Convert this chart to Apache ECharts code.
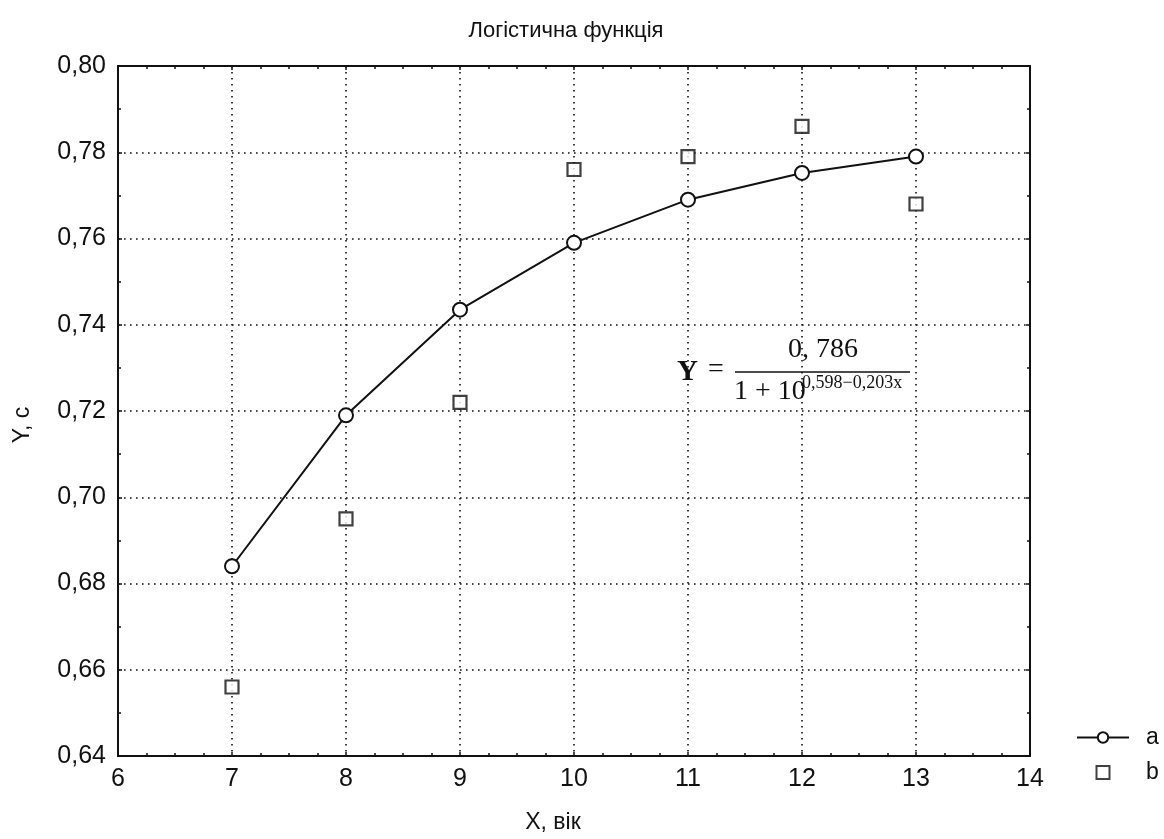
<!DOCTYPE html>
<html>
<head>
<meta charset="utf-8">
<script src="https://cdn.jsdelivr.net/npm/echarts@6/dist/echarts.min.js"></script>
<style>html,body{margin:0;padding:0;background:#fff;}#c{width:1164px;height:839px;}</style>
</head>
<body>
<div id="c"></div>
<script>
var titleText = 'Логістична функція';
var xName = 'X, вік';
var yName = 'Y, с';
var xValues = [7, 8, 9, 10, 11, 12, 13];
var seriesA = [0.684, 0.719, 0.7435, 0.759, 0.769, 0.7752, 0.779];
var seriesB = [0.656, 0.695, 0.722, 0.776, 0.779, 0.786, 0.768];
var seriesNames = ['a', 'b'];

function pairs(xs, ys) { return xs.map(function (x, i) { return [x, ys[i]]; }); }

var chart = echarts.init(document.getElementById('c'), null, {renderer: 'canvas'});
var F = '"Liberation Sans", Arial, sans-serif';
var SERIF = '"Liberation Serif", "Times New Roman", serif';
var ink = '#111';
var gridLine = {show: true, lineStyle: {color: ink, width: 1.6, type: [1.6, 4.4]}};

function axisBase(extra) {
  var o = {
    axisLine: {show: true, onZero: false, lineStyle: {color: ink, width: 2}},
    axisTick: {show: true, inside: true, length: 4, lineStyle: {color: ink, width: 1.5}},
    minorTick: {show: true, length: 3, lineStyle: {color: ink, width: 1.5}},
    splitLine: {show: false}
  };
  for (var k in extra) o[k] = extra[k];
  return o;
}

chart.setOption({
  animation: false,
  backgroundColor: '#fff',
  title: {
    text: titleText, left: 561, top: 15, textAlign: 'center',
    textStyle: {fontFamily: F, fontSize: 22, fontWeight: 'normal', color: ink}
  },
  grid: {left: 118, right: 134, top: 66, bottom: 79, show: false},
  xAxis: [
    axisBase({
      type: 'value', min: 6, max: 14, interval: 1, position: 'bottom',
      name: xName, nameLocation: 'middle', nameGap: 55,
      nameTextStyle: {fontFamily: F, fontSize: 23, color: ink, padding: [0, 42, 0, 0]},
      minorTick: {show: true, splitNumber: 4, length: 3, lineStyle: {color: ink, width: 1.5}},
      axisLabel: {fontFamily: F, fontSize: 25, color: ink, margin: 11},
      splitLine: gridLine
    }),
    axisBase({
      type: 'value', min: 6, max: 14, interval: 1, position: 'top',
      minorTick: {show: true, splitNumber: 4, length: 3, lineStyle: {color: ink, width: 1.5}},
      axisLabel: {show: false}
    })
  ],
  yAxis: [
    axisBase({
      type: 'value', min: 0.64, max: 0.80, interval: 0.02, position: 'left',
      name: yName, nameLocation: 'middle', nameGap: 84, nameRotate: 90,
      nameTextStyle: {fontFamily: F, fontSize: 23, color: ink, padding: [0, 28, 0, 0]},
      minorTick: {show: true, splitNumber: 2, length: 3, lineStyle: {color: ink, width: 1.5}},
      axisLabel: {fontFamily: F, fontSize: 25, color: ink, margin: 12,
        formatter: function (v) { return v.toFixed(2).replace('.', ','); }},
      splitLine: gridLine
    }),
    axisBase({
      type: 'value', min: 0.64, max: 0.80, interval: 0.02, position: 'right',
      minorTick: {show: true, splitNumber: 2, length: 3, lineStyle: {color: ink, width: 1.5}},
      axisLabel: {show: false}
    })
  ],
  legend: {
    orient: 'vertical', left: 1076, top: 726, itemWidth: 52, itemHeight: 13, itemGap: 12,
    padding: 0, symbolKeepAspect: true,
    textStyle: {fontFamily: F, fontSize: 23, color: ink, padding: [0, 0, 0, 12]},
    data: [
      {name: seriesNames[0]},
      {name: seriesNames[1], icon: 'path://M0,0L10,0L10,10L0,10Z',
        itemStyle: {color: '#fff', borderColor: ink, borderWidth: 2}}
    ]
  },
  series: [
    {
      name: seriesNames[0], type: 'line', xAxisIndex: 0, yAxisIndex: 0,
      data: pairs(xValues, seriesA),
      symbol: 'circle', symbolSize: 14, smooth: false,
      lineStyle: {color: ink, width: 2},
      itemStyle: {color: '#fff', borderColor: ink, borderWidth: 2},
      z: 5
    },
    {
      name: seriesNames[1], type: 'scatter', xAxisIndex: 0, yAxisIndex: 0,
      data: pairs(xValues, seriesB),
      symbol: 'rect', symbolSize: 13,
      itemStyle: {color: '#fff', borderColor: ink, borderWidth: 2.2},
      z: 5
    }
  ],
  graphic: [
    {type: 'text', left: 677, top: 358, z: 10,
      style: {text: 'Y', font: 'bold 29px ' + SERIF, fill: ink}},
    {type: 'text', left: 708, top: 356, z: 10,
      style: {text: '=', font: '28px ' + SERIF, fill: ink}},
    {type: 'text', left: 788, top: 336, z: 10,
      style: {text: '0, 786', font: '28px ' + SERIF, fill: ink}},
    {type: 'line', z: 10, shape: {x1: 735, y1: 372, x2: 910, y2: 372},
      style: {stroke: ink, lineWidth: 1.5}},
    {type: 'text', left: 734, top: 378, z: 10,
      style: {text: '1 + 10', font: '28px ' + SERIF, fill: ink}},
    {type: 'text', left: 802, top: 374, z: 10,
      style: {text: '0,598\u22120,203x', font: '18px ' + SERIF, fill: ink}}
  ]
});
</script>
</body>
</html>
